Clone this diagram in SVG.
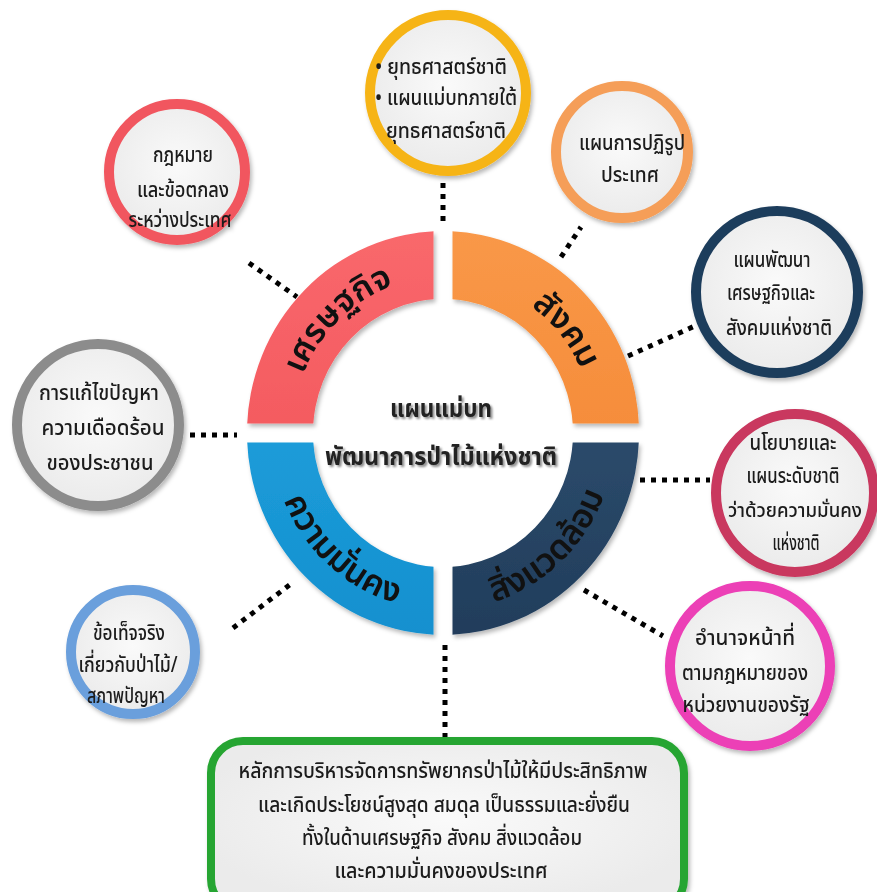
<svg xmlns="http://www.w3.org/2000/svg" width="877" height="892" viewBox="0 0 877 892">
<style>
.t{font-family:'Noto Sans Thai','Noto Sans','DejaVu Sans',sans-serif;font-size:22px;font-weight:500;fill:#1a1a1a;text-anchor:middle}
.tl{font-family:'Noto Sans Thai','Noto Sans','DejaVu Sans',sans-serif;font-size:22px;font-weight:500;fill:#1a1a1a}
.ring{font-family:'Noto Sans Thai','Noto Sans','DejaVu Sans',sans-serif;font-size:34px;font-weight:600;fill:#111;text-anchor:middle}
.ctr{font-family:'Noto Sans Thai','Noto Sans','DejaVu Sans',sans-serif;font-size:24px;font-weight:bold;fill:#222;text-anchor:middle}
.dot{fill:none;stroke:#000;stroke-width:5;stroke-dasharray:5 6}
.node{fill:url(#nf);stroke-width:10}
</style>
<defs>
<radialGradient id="nf" cx="50%" cy="45%" r="55%">
<stop offset="0" stop-color="#fafafa"/>
<stop offset="1" stop-color="#ebebeb"/>
</radialGradient>
<linearGradient id="gr" x1="0" y1="0" x2="0" y2="1"><stop offset="0" stop-color="#f9686c"/><stop offset="1" stop-color="#ef4d54"/></linearGradient>
<linearGradient id="go" x1="0" y1="0" x2="0" y2="1"><stop offset="0" stop-color="#f99848"/><stop offset="1" stop-color="#f2812d"/></linearGradient>
<linearGradient id="gb" x1="0" y1="0" x2="0" y2="1"><stop offset="0" stop-color="#23a8e3"/><stop offset="1" stop-color="#1590cf"/></linearGradient>
<linearGradient id="gn" x1="0" y1="0" x2="0" y2="1"><stop offset="0" stop-color="#36587b"/><stop offset="1" stop-color="#213d5b"/></linearGradient>
<filter id="sh" x="-20%" y="-20%" width="140%" height="140%"><feDropShadow dx="2" dy="3" stdDeviation="2" flood-color="#000" flood-opacity="0.28"/></filter>
<filter id="ts" x="-10%" y="-30%" width="120%" height="160%"><feDropShadow dx="2" dy="2" stdDeviation="1.2" flood-color="#000" flood-opacity="0.45"/></filter>
<clipPath id="cTL"><rect x="200" y="200" width="233.5" height="223.5"/></clipPath>
<clipPath id="cTR"><rect x="452.5" y="200" width="230" height="223.5"/></clipPath>
<clipPath id="cBL"><rect x="200" y="442.5" width="233.5" height="230"/></clipPath>
<clipPath id="cBR"><rect x="452.5" y="442.5" width="230" height="230"/></clipPath>
<path id="ring" d="M247,433 A196,202 0 1 0 639,433 A196,202 0 1 0 247,433 Z M313,433 A130,134 0 1 0 573,433 A130,134 0 1 0 313,433 Z"/>
<path id="pTL" d="M292,433 A151,156 0 0 1 443,277"/>
<path id="pTR" d="M443,277 A151,156 0 0 1 594,433"/>
<path id="pBL" d="M271,433 A172,177 0 0 0 443,610"/>
<path id="pBR" d="M443,610 A172,177 0 0 0 615,433"/>
</defs>
<rect width="877" height="892" fill="#fff"/>

<g id="connectors">
<path class="dot" d="M443,183 L443,224"/>
<path class="dot" d="M249,263 L297,297"/>
<path class="dot" d="M190,435 L237,435"/>
<path class="dot" d="M233,628 L292,583"/>
<path class="dot" d="M561,257 L581,227"/>
<path class="dot" d="M628,356 L697,325"/>
<path class="dot" d="M640,480 L710,480"/>
<path class="dot" d="M584,590 L663,636"/>
<path class="dot" d="M445,645 L445,737"/>
</g>

<g id="hub">
<g filter="url(#sh)">
<use href="#ring" fill="url(#gr)" fill-rule="evenodd" clip-path="url(#cTL)"/>
<use href="#ring" fill="url(#go)" fill-rule="evenodd" clip-path="url(#cTR)"/>
<use href="#ring" fill="url(#gb)" fill-rule="evenodd" clip-path="url(#cBL)"/>
<use href="#ring" fill="url(#gn)" fill-rule="evenodd" clip-path="url(#cBR)"/>
</g>
<text class="ring"><textPath href="#pTL" startOffset="52%">เศรษฐกิจ</textPath></text>
<text class="ring"><textPath href="#pTR" startOffset="56%">สังคม</textPath></text>
<text class="ring"><textPath href="#pBL" startOffset="54%">ความมั่นคง</textPath></text>
<text class="ring"><textPath href="#pBR" startOffset="48%">สิ่งแวดล้อม</textPath></text>
<g filter="url(#ts)">
<text class="ctr" x="441" y="417" textLength="102" lengthAdjust="spacingAndGlyphs">แผนแม่บท</text>
<text class="ctr" x="441" y="465" textLength="232" lengthAdjust="spacingAndGlyphs">พัฒนาการป่าไม้แห่งชาติ</text>
</g>
</g>

<g id="n-strategy" filter="url(#sh)">
<circle class="node" cx="448" cy="93" r="78" stroke="#f6b418"/>
<text class="tl" x="375" y="74" textLength="132" lengthAdjust="spacingAndGlyphs">• ยุทธศาสตร์ชาติ</text>
<text class="tl" x="375" y="105" textLength="142" lengthAdjust="spacingAndGlyphs">• แผนแม่บทภายใต้</text>
<text class="tl" x="386" y="138" textLength="120" lengthAdjust="spacingAndGlyphs">ยุทธศาสตร์ชาติ</text>
</g>

<g id="n-law" filter="url(#sh)">
<circle class="node" cx="177" cy="172" r="68" stroke="#f1565f"/>
<text class="t" x="183" y="162" textLength="60" lengthAdjust="spacingAndGlyphs">กฎหมาย</text>
<text class="t" x="183" y="197" textLength="92" lengthAdjust="spacingAndGlyphs">และข้อตกลง</text>
<text class="t" x="180" y="227" textLength="103" lengthAdjust="spacingAndGlyphs">ระหว่างประเทศ</text>
</g>

<g id="n-reform" filter="url(#sh)">
<circle class="node" cx="622" cy="152" r="66" stroke="#f59e58"/>
<text class="t" x="632" y="150" textLength="106" lengthAdjust="spacingAndGlyphs">แผนการปฏิรูป</text>
<text class="t" x="630" y="182" textLength="58" lengthAdjust="spacingAndGlyphs">ประเทศ</text>
</g>

<g id="n-devplan" filter="url(#sh)">
<circle class="node" cx="777" cy="292" r="81" stroke="#1e3d5c" stroke-width="12"/>
<text class="t" x="772" y="267" textLength="77" lengthAdjust="spacingAndGlyphs">แผนพัฒนา</text>
<text class="t" x="771" y="300" textLength="88" lengthAdjust="spacingAndGlyphs">เศรษฐกิจและ</text>
<text class="t" x="779" y="335" textLength="106" lengthAdjust="spacingAndGlyphs">สังคมแห่งชาติ</text>
</g>

<g id="n-problem" filter="url(#sh)">
<circle class="node" cx="98" cy="425" r="81" stroke="#8c8c8c" stroke-width="11"/>
<text class="t" x="99" y="400" textLength="120" lengthAdjust="spacingAndGlyphs">การแก้ไขปัญหา</text>
<text class="t" x="103" y="435" textLength="123" lengthAdjust="spacingAndGlyphs">ความเดือดร้อน</text>
<text class="t" x="100" y="470" textLength="107" lengthAdjust="spacingAndGlyphs">ของประชาชน</text>
</g>

<g id="n-security" filter="url(#sh)">
<circle class="node" cx="795" cy="493" r="79" stroke="#c9375e"/>
<text class="t" x="793" y="450" textLength="87" lengthAdjust="spacingAndGlyphs">นโยบายและ</text>
<text class="t" x="793" y="483" textLength="93" lengthAdjust="spacingAndGlyphs">แผนระดับชาติ</text>
<text class="t" x="795" y="517" style="font-size:19px" textLength="134" lengthAdjust="spacingAndGlyphs">ว่าด้วยความมั่นคง</text>
<text class="t" x="796" y="550" textLength="47" lengthAdjust="spacingAndGlyphs">แห่งชาติ</text>
</g>

<g id="n-facts" filter="url(#sh)">
<circle class="node" cx="133" cy="652" r="62" stroke="#6a9fdc"/>
<text class="t" x="129" y="640" textLength="72" lengthAdjust="spacingAndGlyphs">ข้อเท็จจริง</text>
<text class="t" x="128" y="672" textLength="99" lengthAdjust="spacingAndGlyphs">เกี่ยวกับป่าไม้/</text>
<text class="t" x="126" y="703" textLength="78" lengthAdjust="spacingAndGlyphs">สภาพปัญหา</text>
</g>

<g id="n-authority" filter="url(#sh)">
<circle class="node" cx="750" cy="666" r="80" stroke="#ec3fb6" stroke-width="12"/>
<text class="t" x="745" y="645" textLength="100" lengthAdjust="spacingAndGlyphs">อำนาจหน้าที่</text>
<text class="t" x="745" y="680" textLength="126" lengthAdjust="spacingAndGlyphs">ตามกฎหมายของ</text>
<text class="t" x="746" y="712" textLength="127" lengthAdjust="spacingAndGlyphs">หน่วยงานของรัฐ</text>
</g>

<g id="n-principle" filter="url(#sh)">
<rect x="211" y="741" width="473" height="170" rx="32" fill="url(#nf)" stroke="#27a533" stroke-width="8"/>
<text class="t" x="443" y="778" textLength="409" lengthAdjust="spacingAndGlyphs">หลักการบริหารจัดการทรัพยากรป่าไม้ให้มีประสิทธิภาพ</text>
<text class="t" x="444" y="812" textLength="372" lengthAdjust="spacingAndGlyphs">และเกิดประโยชน์สูงสุด สมดุล เป็นธรรมและยั่งยืน</text>
<text class="t" x="442" y="845" textLength="280" lengthAdjust="spacingAndGlyphs">ทั้งในด้านเศรษฐกิจ สังคม สิ่งแวดล้อม</text>
<text class="t" x="441" y="878" textLength="213" lengthAdjust="spacingAndGlyphs">และความมั่นคงของประเทศ</text>
</g>
</svg>
